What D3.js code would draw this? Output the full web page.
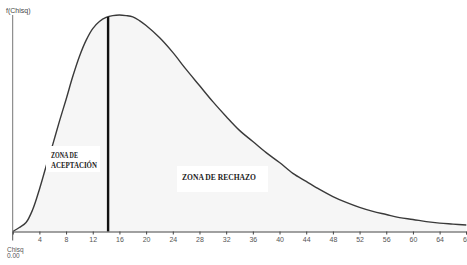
<!DOCTYPE html>
<html lang="es">
<head>
  <meta charset="UTF-8">
  <title>Distribución Chi-cuadrado</title>
  <script src="https://d3js.org/d3.v7.min.js"></script>
  <style>
    body { margin: 0; background: #fff; }
  </style>
</head>
<body>
  <svg width="467" height="265"></svg>

  <script>
    // Curve readings (x value, density)
    const chisq = [0, 1, 2, 3, 4, 5, 6, 7, 8, 9, 10, 11, 12, 13, 14, 15, 16, 17, 18, 19, 20,
      22, 24, 26, 28, 30, 32, 34, 36, 38, 40, 42, 44, 46, 48, 50, 52, 54, 56, 58, 60, 62, 64, 66, 68];
    const density = [0, 0.0013, 0.0029, 0.0071, 0.0136, 0.0210, 0.0281, 0.0356, 0.0427, 0.0501, 0.0566,
      0.0618, 0.0656, 0.0679, 0.0692, 0.0698, 0.0700, 0.0698, 0.0694, 0.0682, 0.0666,
      0.0627, 0.0579, 0.0524, 0.0472, 0.0420, 0.0372, 0.0327, 0.0291, 0.0255, 0.0223,
      0.0188, 0.0162, 0.0136, 0.0113, 0.0094, 0.0078, 0.0065, 0.0055, 0.0045, 0.0039,
      0.0032, 0.0027, 0.0024, 0.0021];
    const xTicks = [4, 8, 12, 16, 20, 24, 28, 32, 36, 40, 44, 48, 52, 56, 60, 64, 68];
    const critical = 14.3;
    const acceptLines = ['ZONA DE', 'ACEPTACIÓN'];
    const rejectLines = ['ZONA DE RECHAZO'];

    const svg = d3.select('svg');
    const x = d3.scaleLinear().domain([0, 68]).range([12.7, 466.3]);
    const y = d3.scaleLinear().domain([0, 0.07]).range([231.5, 15]);

    const pts = chisq.map((c, i) => [c, density[i]]);
    const curve = d3.curveCatmullRom.alpha(0.5);

    // shaded area under the curve
    svg.append('path')
      .datum(pts)
      .attr('d', d3.area().x(d => x(d[0])).y0(y(0)).y1(d => y(d[1])).curve(curve))
      .attr('fill', '#f6f6f6');

    // density curve
    svg.append('path')
      .datum(pts)
      .attr('d', d3.line().x(d => x(d[0])).y(d => y(d[1])).curve(curve))
      .attr('fill', 'none')
      .attr('stroke', '#3a3a3a')
      .attr('stroke-width', 1.4);

    // critical value line, up to the curve
    const critY = d3.scaleLinear().domain(chisq).range(density)(critical);
    svg.append('line')
      .attr('x1', x(critical)).attr('x2', x(critical))
      .attr('y1', y(0)).attr('y2', y(critY))
      .attr('stroke', '#111')
      .attr('stroke-width', 2.4);

    // y axis line
    svg.append('line')
      .attr('x1', x(0)).attr('x2', x(0))
      .attr('y1', 15).attr('y2', y(0))
      .attr('stroke', '#777')
      .attr('stroke-width', 1);

    const sans = '"Liberation Sans Narrow", "Liberation Sans", Arial, sans-serif';

    svg.append('text')
      .attr('x', 6).attr('y', 13)
      .attr('font-family', sans)
      .attr('font-size', 7)
      .attr('fill', '#444')
      .text('f(Chisq)');

    // x axis
    const xAxis = svg.append('g')
      .attr('transform', `translate(0,${y(0)})`)
      .call(d3.axisBottom(x).tickValues(xTicks).tickSize(3).tickPadding(3).tickFormat(d3.format('d')));
    xAxis.select('.domain').attr('stroke', '#444').attr('stroke-width', 1.2);
    xAxis.selectAll('.tick line').attr('stroke', '#444');
    xAxis.selectAll('.tick text')
      .attr('font-family', sans)
      .attr('font-size', 7)
      .attr('fill', '#555');

    // origin marker and labels
    svg.append('line')
      .attr('x1', x(0)).attr('x2', x(0))
      .attr('y1', y(0)).attr('y2', y(0) + 9)
      .attr('stroke', '#555').attr('stroke-width', 1);
    svg.selectAll('.orig')
      .data(['Chisq', '0.00'])
      .enter().append('text')
      .attr('class', 'orig')
      .attr('x', 7)
      .attr('y', (d, i) => 252 + i * 6)
      .attr('font-family', sans)
      .attr('font-size', 6.5)
      .attr('fill', '#555')
      .text(d => d);

    // zone labels with white boxes
    const serif = '"Liberation Serif", "Times New Roman", serif';

    svg.append('rect')
      .attr('x', 46).attr('y', 146).attr('width', 54).attr('height', 26)
      .attr('fill', '#fff');
    svg.selectAll('.acc')
      .data(acceptLines)
      .enter().append('text')
      .attr('class', 'acc')
      .attr('x', 51)
      .attr('y', (d, i) => 157.5 + i * 10)
      .attr('font-family', serif)
      .attr('font-weight', 'bold')
      .attr('font-size', 7.5)
      .attr('fill', '#222')
      .attr('textLength', (d, i) => [27, 46][i])
      .attr('lengthAdjust', 'spacingAndGlyphs')
      .text(d => d);

    svg.append('rect')
      .attr('x', 177).attr('y', 166).attr('width', 91).attr('height', 26)
      .attr('fill', '#fff');
    svg.selectAll('.rej')
      .data(rejectLines)
      .enter().append('text')
      .attr('class', 'rej')
      .attr('x', 182)
      .attr('y', 180)
      .attr('font-family', serif)
      .attr('font-weight', 'bold')
      .attr('font-size', 7.5)
      .attr('fill', '#222')
      .attr('textLength', 74)
      .attr('lengthAdjust', 'spacingAndGlyphs')
      .text(d => d);
  </script>
</body>
</html>
